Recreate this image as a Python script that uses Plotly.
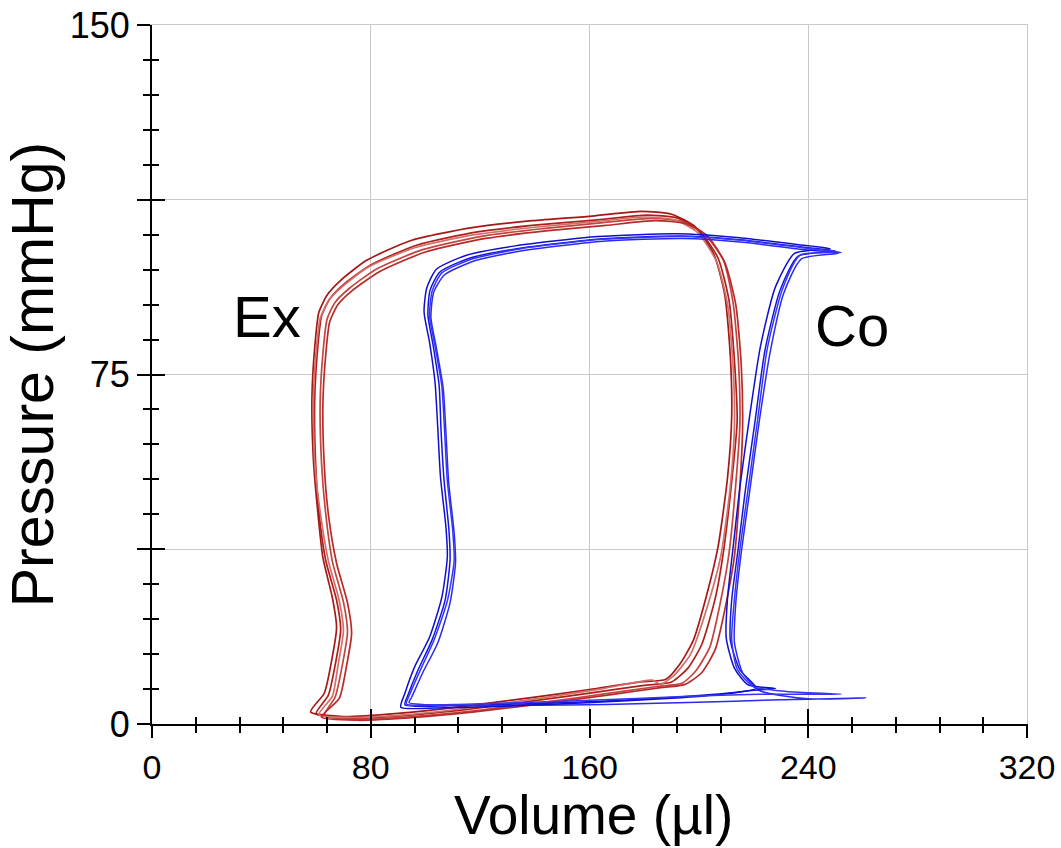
import plotly.graph_objects as go

# ---- data: pressure-volume loops ----
# Ex (red) cycles: volume (µl) and pressure (mmHg)
ex_v1 = [60, 72, 92, 116, 140, 162, 180, 190, 196, 201, 206, 209, 212, 214, 213, 211, 207, 200, 192, 181, 163, 141, 119, 97, 80, 70, 65, 62, 60.5, 59.5, 59.8, 61, 63.5, 67.5, 69, 67, 64.5, 60]
ex_p1 = [2.2, 1.2, 1.8, 3.2, 5.0, 6.8, 8.3, 9.0, 12, 17, 27, 37, 52, 65, 78, 91, 100, 106, 108.6, 109.2, 108.2, 107.1, 105.6, 102.8, 98.5, 94.3, 91.2, 87.5, 80, 69.5, 56.5, 45.8, 35.2, 26.6, 20.2, 12.7, 6.2, 2.2]
ex_v2 = [63, 74, 95, 120, 145, 166, 184, 194, 199, 204, 208, 211, 213.5, 215, 214.5, 212.5, 209, 202, 194, 183, 165, 143, 121, 99, 82, 72, 67, 64, 62.5, 61.5, 62, 63.5, 66, 70, 71.5, 69.5, 67, 63]
ex_p2 = [1.8, 1.0, 1.6, 3.0, 4.8, 6.5, 8.0, 8.8, 11.5, 16.5, 26.5, 36.5, 51.5, 64.5, 77.5, 90.5, 99.5, 105.2, 107.8, 108.5, 107.6, 106.3, 104.7, 101.8, 97.6, 93.4, 90.5, 86.8, 79.5, 69, 56, 45.3, 34.8, 26.2, 19.8, 12.3, 5.8, 1.8]
ex_v3 = [58, 70, 90, 114, 138, 160, 178, 188, 193, 198, 203, 207, 210.5, 212, 211.5, 209.5, 205.5, 198.5, 190, 179, 161, 139, 117, 95, 78.5, 69, 64, 61, 59.5, 58.5, 59, 60.5, 62.5, 66, 67.5, 65.5, 63, 58]
ex_p3 = [2.6, 1.6, 2.3, 3.8, 5.6, 7.4, 9.0, 9.6, 12.8, 18, 28, 38, 53, 66, 79, 92, 100.8, 106.8, 109.4, 110, 109, 108, 106.5, 103.8, 99.5, 95.2, 92, 88.3, 80.7, 70, 57, 46.3, 35.7, 27, 20.7, 13, 6.6, 2.6]
ex_v4 = [61, 73, 93, 118, 143, 165, 183, 186, 191, 197, 203, 208, 211.5, 213, 212.5, 210.5, 206.5, 199.5, 191, 180, 162, 140, 118, 96, 79, 69.5, 64.5, 61.5, 60, 59, 59.5, 61.5, 64.5, 68.5, 70, 68, 66, 61]
ex_p4 = [2.0, 1.4, 2.0, 3.6, 5.6, 7.6, 9.4, 8.5, 10.5, 15, 25, 36, 51, 64, 77, 90, 99.2, 105.5, 108.2, 108.8, 107.8, 106.6, 105, 102.2, 98, 93.8, 90.8, 87, 79.8, 69.2, 56.2, 45.5, 35, 26.4, 20, 12.5, 6.0, 2.0]
ex_v5 = [62, 75, 96, 121, 146, 168, 186, 195, 201, 206, 210, 213, 215, 216, 215.5, 213.5, 209.5, 203, 195, 184, 166, 144, 122, 100, 83, 73, 68, 65, 63.5, 62.5, 63, 64.5, 67.5, 71.5, 73, 71, 68.5, 62]
ex_p5 = [1.5, 0.8, 1.4, 2.8, 4.6, 6.3, 7.8, 8.5, 11, 16, 26, 36, 51, 64, 77, 90, 99, 104.8, 107.4, 108, 107, 105.8, 104.2, 101.3, 97, 92.9, 90, 86.3, 79, 68.5, 55.5, 45, 34.5, 26, 19.5, 12, 5.5, 1.5]

# Co (blue) cycles
co_v1 = [92.5, 109, 134.6, 163.9, 193.1, 215, 221, 215, 211.5, 212, 214.3, 217, 220.6, 224.2, 229.7, 236.3, 250, 237, 215, 193, 164, 134.6, 116.3, 105.3, 101.7, 100.9, 102.8, 105, 105.7, 106.8, 108.6, 109, 107.2, 102.4, 97.3, 93.6, 92.5]
co_p1 = [4.1, 3.9, 4.3, 4.9, 5.8, 6.9, 7.7, 11.6, 18, 26.6, 37.3, 50.2, 65.2, 80.3, 93.1, 100.4, 101.5, 102.4, 103.9, 104.7, 104.1, 102.1, 100, 97, 93.1, 87.8, 81.3, 72.7, 63.1, 52.4, 41.6, 35.2, 26.6, 18, 11.6, 6.2, 4.1]
co_v2 = [94, 111, 137, 166, 196, 230, 261, 240, 222, 216, 213, 213.5, 215.5, 218.5, 222, 226, 231, 237.5, 251, 238, 216, 194, 165, 136, 118, 107, 103, 102, 104, 106.5, 107.5, 108.5, 110.5, 111, 109, 104.5, 99, 95, 94]
co_p2 = [4.6, 4.0, 4.0, 4.2, 4.6, 5.2, 5.6, 5.4, 7.2, 11, 17.5, 26, 36.8, 49.6, 64.6, 79.6, 92.4, 99.8, 101, 101.8, 103.4, 104.2, 103.6, 101.6, 99.4, 96.4, 92.6, 87.2, 80.7, 72, 62.5, 51.8, 41, 34.6, 26, 17.4, 11, 5.8, 4.6]
co_v3 = [91, 107, 132, 161, 190, 212, 219, 228, 218, 213, 210, 210.5, 212.5, 215, 218.5, 222.5, 228, 235, 248, 236, 214, 192, 163, 133, 115, 104, 100.5, 99.5, 101.5, 103.5, 104.5, 105.5, 107.5, 108, 106, 101.5, 96, 92.5, 91]
co_p3 = [3.6, 3.5, 3.9, 4.6, 5.5, 6.6, 7.2, 7.6, 8.4, 12, 18.5, 27.2, 37.8, 50.8, 65.8, 81, 93.8, 101, 102, 102.9, 104.4, 105.2, 104.6, 102.6, 100.6, 97.6, 93.6, 88.4, 81.9, 73.4, 63.7, 53, 42.2, 35.8, 27.2, 18.6, 12.2, 6.6, 3.6]
co_v4 = [93, 110, 136, 165, 194, 222, 252, 232, 220, 214, 212, 213, 215, 218, 221.5, 225, 230.5, 237, 252, 238, 215.5, 193.5, 164.5, 135, 117, 106, 102.5, 101.5, 103.5, 106, 107, 108, 110, 110.5, 108, 103, 98, 94, 93]
co_p4 = [4.3, 4.2, 4.6, 5.2, 5.9, 6.4, 6.4, 7.0, 8.0, 11.8, 18.2, 26.8, 37.5, 50.4, 65.4, 80.5, 93.2, 100.6, 101.2, 102.2, 103.8, 104.6, 104, 102, 99.8, 96.8, 93, 87.6, 81.1, 72.5, 62.9, 52.2, 41.4, 35, 26.4, 17.8, 11.4, 6.0, 4.3]

x_tickvals = [0, 80, 160, 240, 320]
y_tickvals = [0, 37.5, 75, 112.5, 150]
y_ticktext = ["0", "", "75", "", "150"]

ex_cycles = [(ex_v1, ex_p1), (ex_v2, ex_p2), (ex_v3, ex_p3), (ex_v4, ex_p4), (ex_v5, ex_p5)]
co_cycles = [(co_v1, co_p1), (co_v2, co_p2), (co_v3, co_p3), (co_v4, co_p4)]
ex_colors = ["#b01e1b", "#c4443f", "#a51816", "#d0706b", "#b82a27"]
co_colors = ["#1414e0", "#2a2af0", "#0f0fd0", "#3535f5"]

fig = go.Figure()
for (v, p), c in zip(ex_cycles, ex_colors):
    fig.add_trace(go.Scatter(x=v, y=p, mode="lines", line=dict(color=c, width=1.7, shape="spline", smoothing=0.6),
                             showlegend=False, hoverinfo="skip"))
for (v, p), c in zip(co_cycles, co_colors):
    fig.add_trace(go.Scatter(x=v, y=p, mode="lines", line=dict(color=c, width=1.5, shape="spline", smoothing=0.6),
                             showlegend=False, hoverinfo="skip"))
# helper traces so the overlay axes (inner half of crossing ticks, grey frame) are drawn
fig.add_trace(go.Scatter(x=[None], y=[None], xaxis="x2", yaxis="y2", showlegend=False, hoverinfo="skip"))
fig.add_trace(go.Scatter(x=[None], y=[None], xaxis="x3", yaxis="y3", showlegend=False, hoverinfo="skip"))

FONT = "Liberation Sans, Arial, sans-serif"
TICK = dict(tickwidth=1.5, tickcolor="black")
fig.update_layout(
    width=1061, height=848,
    margin=dict(l=152, r=34, t=25, b=124, autoexpand=False),
    paper_bgcolor="white", plot_bgcolor="white",
    font=dict(family=FONT, color="black"),
    xaxis=dict(range=[0, 320], tickvals=x_tickvals, ticks="outside", ticklen=12, **TICK,
               minor=dict(dtick=16, tick0=0, ticks="outside", ticklen=7, showgrid=False, **TICK),
               showgrid=True, gridcolor="#c9c9c9", gridwidth=1, zeroline=False,
               showline=True, linecolor="black", linewidth=2, automargin=False,
               tickfont=dict(size=34, family=FONT)),
    yaxis=dict(range=[0, 150], tickvals=y_tickvals, ticktext=y_ticktext, ticks="outside", ticklen=13, **TICK,
               minor=dict(dtick=7.5, tick0=0, ticks="outside", ticklen=7, showgrid=False, **TICK),
               showgrid=True, gridcolor="#c9c9c9", gridwidth=1, zeroline=False,
               showline=True, linecolor="black", linewidth=2, automargin=False,
               tickfont=dict(size=36, family=FONT),
               title=dict(text="Pressure (mmHg)", font=dict(size=59, family=FONT), standoff=6)),
    xaxis2=dict(range=[0, 320], overlaying="x", anchor="y", side="bottom", tickvals=x_tickvals, ticks="inside",
                ticklen=15, **TICK, showticklabels=False, showgrid=False, zeroline=False, showline=False,
                automargin=False,
                minor=dict(dtick=16, tick0=0, ticks="inside", ticklen=7, showgrid=False, **TICK)),
    yaxis2=dict(range=[0, 150], overlaying="y", anchor="x", side="left", tickvals=y_tickvals, ticks="inside",
                ticklen=13, **TICK, showticklabels=False, showgrid=False, zeroline=False, showline=False,
                automargin=False,
                minor=dict(dtick=7.5, tick0=0, ticks="inside", ticklen=7, showgrid=False, **TICK)),
    # grey frame on top and right (grid lines at 150 and 320)
    xaxis3=dict(range=[0, 320], overlaying="x", anchor="y", side="top", ticks="", showticklabels=False,
                showgrid=False, zeroline=False, showline=True, linecolor="#c9c9c9", linewidth=1, automargin=False),
    yaxis3=dict(range=[0, 150], overlaying="y", anchor="x", side="right", ticks="", showticklabels=False,
                showgrid=False, zeroline=False, showline=True, linecolor="#c9c9c9", linewidth=1, automargin=False),
    annotations=[
        dict(x=0.505, y=-0.1755, xref="paper", yref="paper", xanchor="center", yanchor="bottom", text="Volume (µl)",
             showarrow=False, borderpad=0, font=dict(size=55, family=FONT, color="black")),
        dict(x=42, y=87.5, xref="x", yref="y", text="Ex", showarrow=False, font=dict(size=58, family=FONT, color="black")),
        dict(x=256, y=85.5, xref="x", yref="y", text="Co", showarrow=False, font=dict(size=58, family=FONT, color="black")),
    ],
)

fig.write_html("out.html")
